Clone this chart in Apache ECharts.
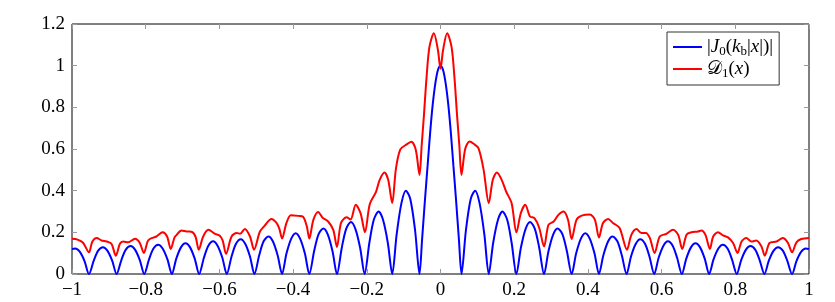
<!DOCTYPE html>
<html><head><meta charset="utf-8">
<script src="https://cdn.jsdelivr.net/npm/echarts@6/dist/echarts.min.js"></script>
<style>html,body{margin:0;padding:0;background:#fff}#c{width:835px;height:302px}</style>
</head><body><div id="c"></div>
<script>
const seriesNames = ['|J0(kb|x|)|', 'D1(x)'];
const xTickLabels = ['\u22121','\u22120.8','\u22120.6','\u22120.4','\u22120.2','0','0.2','0.4','0.6','0.8','1'];
const yTickLabels = ['0','0.2','0.4','0.6','0.8','1','1.2'];

const bluePoints = [
 [-1.000,0.120],[-0.991,0.123],[-0.979,0.107],[-0.966,0.062],
 [-0.954,0],[-0.941,0.064],[-0.929,0.112],[-0.916,0.129],[-0.904,0.112],[-0.891,0.064],
 [-0.879,0],[-0.866,0.067],[-0.854,0.117],[-0.841,0.134],[-0.829,0.117],[-0.816,0.067],
 [-0.804,0],[-0.791,0.070],[-0.779,0.122],[-0.766,0.141],[-0.754,0.122],[-0.741,0.070],
 [-0.729,0],[-0.717,0.074],[-0.704,0.129],[-0.692,0.148],[-0.680,0.129],[-0.667,0.074],
 [-0.655,0],[-0.642,0.078],[-0.630,0.136],[-0.617,0.157],[-0.605,0.136],[-0.592,0.078],
 [-0.580,0],[-0.567,0.084],[-0.555,0.145],[-0.542,0.167],[-0.530,0.145],[-0.517,0.084],
 [-0.505,0],[-0.492,0.090],[-0.480,0.157],[-0.467,0.180],[-0.455,0.157],[-0.442,0.090],
 [-0.430,0],[-0.418,0.098],[-0.405,0.170],[-0.393,0.196],[-0.381,0.170],[-0.368,0.098],
 [-0.356,0],[-0.343,0.109],[-0.331,0.190],[-0.318,0.218],[-0.306,0.190],[-0.293,0.109],
 [-0.281,0],[-0.268,0.125],[-0.256,0.217],[-0.243,0.250],[-0.231,0.217],[-0.218,0.125],
 [-0.206,0],[-0.193,0.150],[-0.181,0.260],[-0.168,0.300],[-0.156,0.260],[-0.143,0.150],
 [-0.131,0],[-0.119,0.190],[-0.106,0.340],[-0.094,0.400],[-0.082,0.360],[-0.069,0.210],
 [-0.057,0],[-0.050,0.165],[-0.042,0.360],[-0.035,0.520],[-0.028,0.680],[-0.021,0.815],[-0.014,0.915],[-0.007,0.979],
 [0,1.0],
 [0.007,0.979],[0.014,0.915],[0.021,0.815],[0.028,0.680],[0.035,0.520],[0.042,0.360],[0.050,0.165],
 [0.057,0],[0.069,0.210],[0.082,0.360],[0.094,0.400],[0.106,0.340],[0.119,0.190],
 [0.131,0],[0.143,0.150],[0.156,0.260],[0.168,0.300],[0.181,0.260],[0.193,0.150],
 [0.206,0],[0.218,0.125],[0.231,0.217],[0.243,0.250],[0.256,0.217],[0.268,0.125],
 [0.281,0],[0.293,0.109],[0.306,0.190],[0.318,0.218],[0.331,0.190],[0.343,0.109],
 [0.356,0],[0.368,0.098],[0.381,0.170],[0.393,0.196],[0.405,0.170],[0.418,0.098],
 [0.430,0],[0.442,0.090],[0.455,0.157],[0.467,0.180],[0.480,0.157],[0.492,0.090],
 [0.505,0],[0.517,0.084],[0.530,0.145],[0.542,0.167],[0.555,0.145],[0.567,0.084],
 [0.580,0],[0.592,0.078],[0.605,0.136],[0.617,0.157],[0.630,0.136],[0.642,0.078],
 [0.655,0],[0.667,0.074],[0.680,0.129],[0.692,0.148],[0.704,0.129],[0.717,0.074],
 [0.729,0],[0.741,0.070],[0.754,0.122],[0.766,0.141],[0.779,0.122],[0.791,0.070],
 [0.804,0],[0.816,0.067],[0.829,0.117],[0.841,0.134],[0.854,0.117],[0.866,0.067],
 [0.879,0],[0.891,0.064],[0.904,0.112],[0.916,0.129],[0.929,0.112],[0.941,0.064],
 [0.954,0],[0.966,0.062],[0.979,0.107],[0.991,0.123],[1.000,0.120]
];

const redPoints = [
 [-1.000,0.169],[-0.985,0.165],[-0.970,0.150],[-0.954,0.104],[-0.945,0.155],[-0.933,0.173],
 [-0.920,0.161],[-0.906,0.156],[-0.893,0.145],[-0.881,0.088],[-0.870,0.145],[-0.861,0.156],
 [-0.848,0.152],[-0.829,0.169],[-0.816,0.149],[-0.805,0.101],[-0.795,0.155],[-0.789,0.168],
 [-0.771,0.180],[-0.754,0.200],[-0.742,0.180],[-0.732,0.120],[-0.722,0.175],[-0.716,0.188],
 [-0.703,0.209],[-0.689,0.204],[-0.676,0.203],[-0.665,0.180],[-0.656,0.117],[-0.644,0.180],
 [-0.630,0.212],[-0.612,0.193],[-0.599,0.184],[-0.591,0.160],[-0.582,0.097],[-0.567,0.180],
 [-0.553,0.197],[-0.544,0.193],[-0.531,0.216],[-0.517,0.180],[-0.506,0.117],[-0.490,0.204],
 [-0.477,0.232],[-0.459,0.264],[-0.445,0.245],[-0.437,0.215],[-0.430,0.170],[-0.418,0.245],
 [-0.406,0.282],[-0.386,0.279],[-0.373,0.275],[-0.363,0.230],[-0.356,0.170],[-0.345,0.260],
 [-0.332,0.298],[-0.320,0.270],[-0.305,0.252],[-0.291,0.212],[-0.281,0.130],[-0.270,0.245],
 [-0.255,0.272],[-0.244,0.262],[-0.230,0.332],[-0.217,0.292],[-0.205,0.200],[-0.192,0.335],
 [-0.175,0.394],[-0.165,0.452],[-0.152,0.487],[-0.142,0.452],[-0.131,0.341],[-0.121,0.505],
 [-0.109,0.598],[-0.092,0.622],[-0.079,0.635],[-0.067,0.595],[-0.057,0.476],[-0.051,0.620],
 [-0.045,0.760],[-0.038,0.940],[-0.030,1.090],[-0.018,1.156],[-0.007,1.075],
 [0.000,0.985],
 [0.007,1.075],[0.018,1.156],[0.030,1.090],[0.038,0.940],[0.045,0.760],[0.051,0.620],
 [0.057,0.476],[0.067,0.600],[0.079,0.636],[0.090,0.625],[0.103,0.604],[0.117,0.500],
 [0.131,0.340],[0.142,0.452],[0.153,0.487],[0.166,0.452],[0.178,0.396],[0.193,0.340],
 [0.206,0.200],[0.218,0.292],[0.230,0.332],[0.243,0.276],[0.255,0.268],[0.268,0.221],
 [0.281,0.132],[0.293,0.236],[0.307,0.252],[0.320,0.284],[0.334,0.300],[0.346,0.260],
 [0.356,0.168],[0.369,0.260],[0.383,0.280],[0.405,0.286],[0.419,0.260],[0.430,0.175],
 [0.441,0.245],[0.455,0.264],[0.468,0.245],[0.486,0.221],[0.506,0.117],[0.518,0.188],
 [0.532,0.216],[0.545,0.197],[0.557,0.197],[0.568,0.173],[0.581,0.101],[0.595,0.180],
 [0.613,0.193],[0.631,0.212],[0.645,0.188],[0.656,0.120],[0.668,0.190],[0.681,0.200],
 [0.699,0.204],[0.708,0.209],[0.719,0.188],[0.731,0.120],[0.740,0.180],[0.753,0.201],
 [0.767,0.185],[0.780,0.176],[0.794,0.149],[0.806,0.101],[0.817,0.156],[0.830,0.173],
 [0.844,0.156],[0.857,0.161],[0.871,0.132],[0.880,0.088],[0.893,0.149],[0.912,0.156],
 [0.929,0.173],[0.943,0.149],[0.954,0.104],[0.966,0.152],[0.979,0.168],[1.000,0.173]
];

const serif = "'Liberation Serif', 'Times New Roman', serif";
const tickColor = '#9a9a9a';

function xAxisDef(pos, showLabel) {
  return {
    type: 'value', min: -1, max: 1, interval: 0.2, position: pos,
    axisLine: { show: false, onZero: false }, splitLine: { show: false },
    axisTick: { show: true, inside: true, length: 5, lineStyle: { color: tickColor, width: 1 } },
    axisLabel: {
      show: showLabel, margin: 7, fontFamily: serif, fontSize: 19, color: '#000',
      formatter: v => xTickLabels[Math.round((v + 1) / 0.2)]
    }
  };
}
function yAxisDef(pos, showLabel) {
  return {
    type: 'value', min: 0, max: 1.2, interval: 0.2, position: pos,
    axisLine: { show: false, onZero: false }, splitLine: { show: false },
    axisTick: { show: true, inside: true, length: 5, lineStyle: { color: tickColor, width: 1 } },
    axisLabel: {
      show: showLabel, margin: 7, fontFamily: serif, fontSize: 19, color: '#000',
      formatter: v => yTickLabels[Math.round(v / 0.2)]
    }
  };
}

const chart = echarts.init(document.getElementById('c'), null, { renderer: 'canvas' });
chart.setOption({
  animation: false,
  backgroundColor: '#fff',
  grid: { left: 72, right: 26, top: 24, bottom: 28, show: true, borderColor: '#000', borderWidth: 1, backgroundColor: 'transparent' },
  xAxis: [xAxisDef('bottom', true), xAxisDef('top', false)],
  yAxis: [yAxisDef('left', true), yAxisDef('right', false)],
  legend: {
    orient: 'vertical', left: 667, top: 32,
    padding: [4, 6, 5, 6], itemGap: 0, itemWidth: 29, itemHeight: 2,
    icon: 'rect',
    borderColor: '#333', borderWidth: 1, backgroundColor: '#fff', borderRadius: 0,
    data: seriesNames,
    formatter: function (name) {
      if (name === seriesNames[0]) {
        return '{t||}{i|J}{s|0}{t|(}{i|k}{s|b}{t||}{i|x}{t||)|}';
      }
      return '{c|\uD835\uDC9F}{s|1}{t|(}{i|x}{t|)}';
    },
    textStyle: {
      fontFamily: serif, fontSize: 19, color: '#000', lineHeight: 22,
      rich: {
        t: { fontFamily: serif, fontSize: 19, color: '#000', lineHeight: 22 },
        i: { fontFamily: serif, fontSize: 19, color: '#000', fontStyle: 'italic', lineHeight: 22 },
        c: { fontFamily: "'DejaVu Serif', 'DejaVu Sans', serif", fontSize: 19, color: '#000', lineHeight: 22 },
        s: { fontFamily: serif, fontSize: 13, color: '#000', verticalAlign: 'bottom' }
      }
    }
  },
  series: [
    {
      type: 'line', name: seriesNames[0], data: bluePoints, xAxisIndex: 0, yAxisIndex: 0,
      symbol: 'none', smooth: 0.3, clip: false,
      lineStyle: { color: '#0000ff', width: 2 }, itemStyle: { color: '#0000ff' }
    },
    {
      type: 'line', name: seriesNames[1], data: redPoints, xAxisIndex: 0, yAxisIndex: 0,
      symbol: 'none', smooth: 0.3, clip: false,
      lineStyle: { color: '#ff0000', width: 2 }, itemStyle: { color: '#ff0000' }
    }
  ]
});
</script>
</body></html>
